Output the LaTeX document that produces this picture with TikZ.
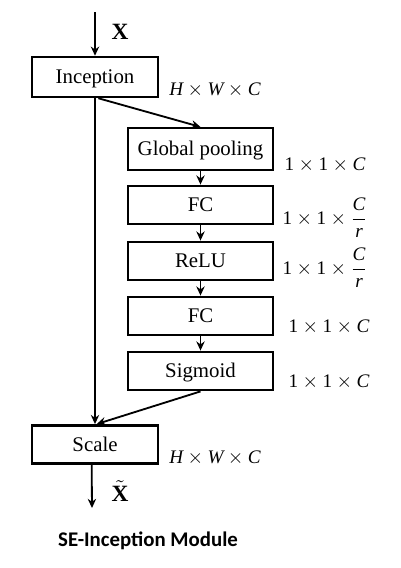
\documentclass[tikz,border=0pt]{standalone}
\usepackage{amsmath}
\usepackage{fontspec}
\setmainfont{Liberation Serif}
\newfontfamily\titlefont{Carlito}
\usetikzlibrary{calc, positioning, arrows.meta}
\newcommand\vi[1]{\textit{#1}}

\begin{document}
\begin{tikzpicture}[x=0.6pt, y=-0.6pt,
	layer/.style={draw, line width=1.5pt, inner sep=0pt, text height=9pt, text depth=1pt, minimum width=75.6pt, minimum height=23pt, font=\fontsize{12.5}{15}\selectfont},
	selayer/.style={layer, minimum width=87pt},
	flow/.style={line width=1.1pt, -{Stealth[length=5.5pt, width=5pt]}},
	dimlabel/.style={font=\fontsize{11.5}{14}\selectfont}]
\useasboundingbox (0,0) rectangle (401,568);
\coordinate (in) at (95,12);
\coordinate (out) at (92,508);
\node[layer, minimum height=24pt] (inception) at (95,77) {Inception};
\node[selayer, minimum height=25pt] (gp) at (200.5,149) {Global pooling};
\node[selayer] (fc1) at (200.5,205) {FC};
\node[selayer] (relu) at (200.5,261) {ReLU};
\node[selayer] (fc2) at (200.5,316) {FC};
\node[selayer] (sig) at (200.5,371) {Sigmoid};
\node[layer] (scale) at (95,444.5) {Scale};

\node[font=\fontsize{14}{16}\selectfont] (xin) at (120,32) {\textbf{X}};
\node[font=\fontsize{14}{16}\selectfont] (xout) at (120,491) {$\tilde{\textbf{X}}$};
\node[dimlabel] (d0) at (215,90) {$\vi{H}\times\vi{W}\times\vi{C}$};
\node[dimlabel] (d1) at (325,165) {$\text{1}\times\text{1}\times\vi{C}$};
\node[dimlabel] (d2) at (325,218) {$\text{1}\times\text{1}\times\dfrac{\vi{C}}{\vi{r}}$};
\node[dimlabel] (d3) at (325,268) {$\text{1}\times\text{1}\times\dfrac{\vi{C}}{\vi{r}}$};
\node[dimlabel] (d4) at (329,327) {$\text{1}\times\text{1}\times\vi{C}$};
\node[dimlabel] (d5) at (329,382) {$\text{1}\times\text{1}\times\vi{C}$};
\node[dimlabel] (d6) at (215,458) {$\vi{H}\times\vi{W}\times\vi{C}$};
\node[font=\titlefont\bfseries\fontsize{12.5}{15}\selectfont] (title) at (148,541) {SE-Inception Module};

\draw[flow] (in) -- (inception.north);
\draw[flow] (inception.south) -- (scale.north);
\draw[flow] ([xshift=2pt]inception.south) -- (gp.north);
\draw[flow] (gp) -- (fc1);
\draw[flow] (fc1) -- (relu);
\draw[flow] (relu) -- (fc2);
\draw[flow] (fc2) -- (sig);
\draw[flow] (sig.south) -- ([xshift=1pt]scale.north);
\draw[flow] ([xshift=-2pt]scale.south) -- (out);
\end{tikzpicture}
\end{document}
